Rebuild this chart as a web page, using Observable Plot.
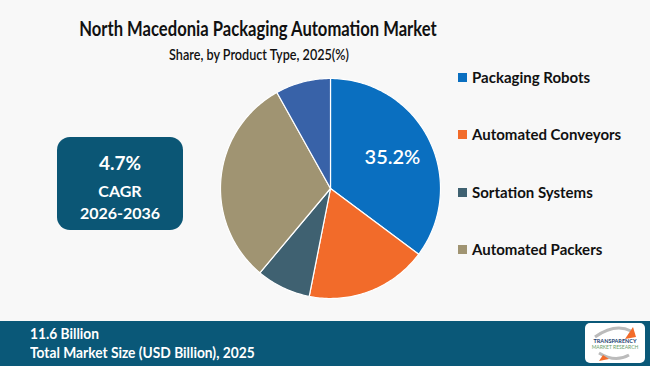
<!DOCTYPE html>
<html><head><meta charset="utf-8">
<script src="https://cdn.jsdelivr.net/npm/d3@7"></script>
<script src="https://cdn.jsdelivr.net/npm/@observablehq/plot@0.6"></script>
<style>
html,body{margin:0;padding:0;background:#f8f8f8;}
#page{position:relative;width:650px;height:366px;overflow:hidden;background:#f8f8f8;font-family:Lato,"Open Sans",sans-serif;}
#chart{position:absolute;left:0;top:0;}
.abs{position:absolute;}
#title{left:0;width:516px;top:16px;text-align:center;font-weight:700;font-size:20px;color:#111;transform:scaleX(0.83);transform-origin:258px 0;}
#subtitle{left:0;width:518px;top:46px;text-align:center;font-weight:600;font-size:14.5px;color:#111;transform:scaleX(0.87);transform-origin:259px 0;}
.leg{position:absolute;left:458px;font-size:15px;font-weight:700;color:#111;white-space:nowrap;}
.leg span{display:inline-block;width:9px;height:9px;margin-right:5px;vertical-align:1px;}
#cagr{left:57px;top:137px;width:126px;height:93px;background:#0b5675;border-radius:13px;color:#fff;text-align:center;font-weight:700;}
#footer{left:0;top:321px;width:650px;height:45px;background:#0a5878;color:#fff;font-weight:700;font-size:16px;}
.ft{position:absolute;left:30px;transform:scaleX(0.86);transform-origin:0 0;white-space:nowrap;}
#logo{left:585px;top:2px;width:60px;height:40px;background:#fff;border-radius:5px;text-align:center;font-weight:700;overflow:hidden;}
</style></head>
<body><div id="page">
<div id="chart"></div>
<div id="title" class="abs">North Macedonia Packaging Automation Market</div>
<div id="subtitle" class="abs">Share, by Product Type, 2025(%)</div>
<div id="legend"></div>
<div id="cagr" class="abs">
  <div style="position:absolute;top:14px;width:100%;font-size:19px;">4.7%</div>
  <div style="position:absolute;top:44px;width:100%;font-size:16px;">CAGR</div>
  <div style="position:absolute;top:66px;width:100%;font-size:16px;">2026-2036</div>
</div>
<div id="footer" class="abs">
  <div class="ft" style="top:2px;">11.6 Billion</div>
  <div class="ft" style="top:21px;">Total Market Size (USD Billion), 2025</div>
  <div id="logo" class="abs">
    <svg width="60" height="40" style="position:absolute;left:0;top:0">
      <path d="M10 14 Q30 0 46 8" fill="none" stroke="#bbb" stroke-width="3"/>
      <path d="M40 16 L48 4 L51 14 Z" fill="#f26b2a"/>
      <path d="M14 30 Q30 40 44 32" fill="none" stroke="#bbb" stroke-width="3"/>
      <path d="M18 32 L14 38 L24 36 Z" fill="#f26b2a"/>
    </svg>
    <div style="position:absolute;top:15px;width:100%;font-size:5.5px;color:#1a3e6e;">TRANSPARENCY</div>
    <div style="position:absolute;top:21px;width:100%;font-size:5px;color:#6aa06a;font-weight:400;">MARKET RESEARCH</div>
  </div>
</div>
</div>
<script>
const categories = ["Packaging Robots","Automated Conveyors","Sortation Systems","Automated Packers","Others"];
const shares = [35.2, 17.9, 8.0, 30.8, 8.1];
const colors = ["#0a6fc0","#f26b2a","#3f6171","#a09472","#3862a8"];
const legendCategories = ["Packaging Robots","Automated Conveyors","Sortation Systems","Automated Packers"];
const labelText = ["35.2%","","","",""];

const R = 110;
const data = categories.map((c,i)=>({category:c, value:shares[i], label:labelText[i]}));
const arcs = d3.pie().sort(null).value(d=>d.value)(data);
const pts = [];
arcs.forEach(a=>{
  const n = Math.max(2, Math.ceil((a.endAngle-a.startAngle)/0.02));
  pts.push({category:a.data.category, x:0, y:0});
  for(let k=0;k<=n;k++){
    const t = a.startAngle + (a.endAngle-a.startAngle)*k/n;
    pts.push({category:a.data.category, x:R*Math.sin(t), y:R*Math.cos(t)});
  }
  pts.push({category:a.data.category, x:0, y:0});
});
const labels = arcs.filter(a=>a.data.label).map(a=>{
  const m=(a.startAngle+a.endAngle)/2;
  return {x:0.63*R*Math.sin(m), y:0.63*R*Math.cos(m), label:a.data.label};
});

const plot = Plot.plot({
  width:650, height:366,
  margin:0,
  x:{domain:[-330,320], axis:null},
  y:{domain:[-178,188], axis:null},
  color:{domain:categories, range:colors},
  style:{background:"transparent"},
  marks:[
    Plot.line(pts,{x:"x",y:"y",z:"category",fill:"category",stroke:"#fff",strokeWidth:1.2,curve:"linear"}),
    Plot.text(labels,{x:"x",y:"y",text:"label",fill:"#fff",fontSize:20,fontWeight:600,fontFamily:"Lato, sans-serif"})
  ]
});
document.getElementById("chart").appendChild(plot);

const legendTops = [68,125,183,240];
const leg = document.getElementById("legend");
legendCategories.forEach((c,i)=>{
  const d=document.createElement("div");
  d.className="leg"; d.style.top=legendTops[i]+"px";
  d.innerHTML=`<span style="background:${colors[categories.indexOf(c)]}"></span>${c}`;
  leg.appendChild(d);
});
</script>
</body></html>
